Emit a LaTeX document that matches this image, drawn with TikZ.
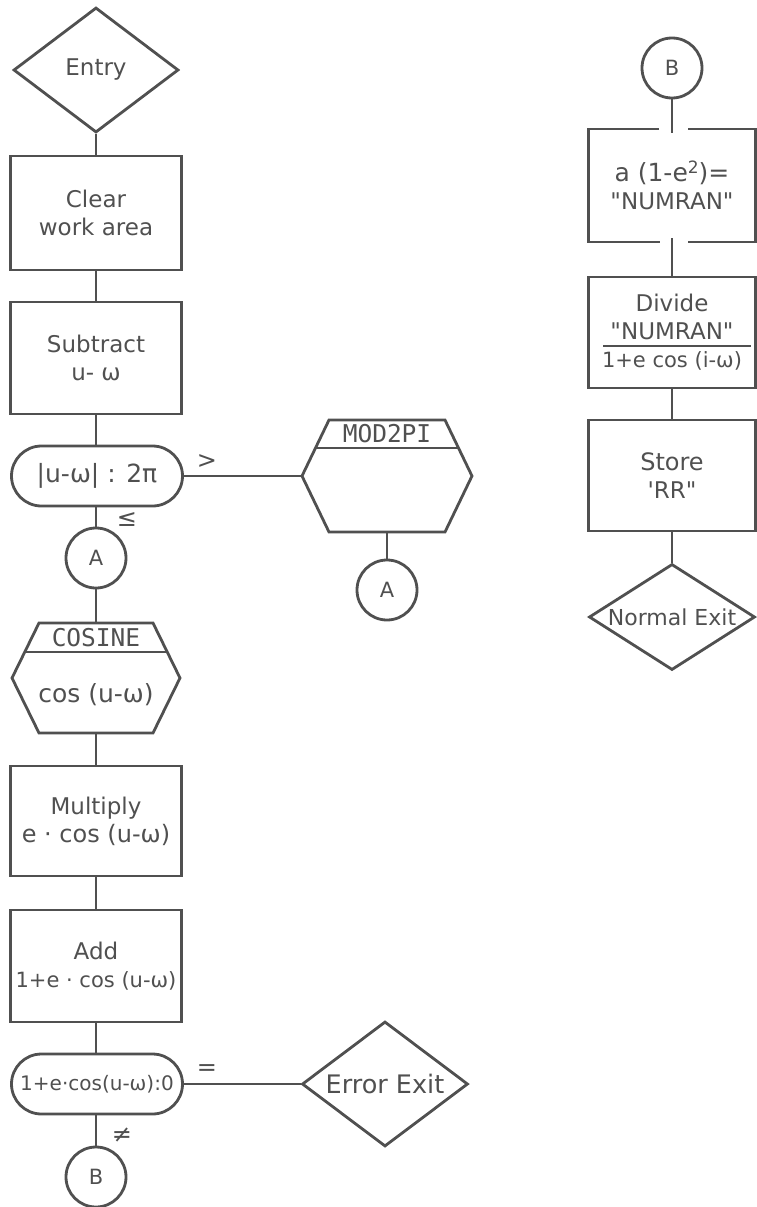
\documentclass[tikz,border=0pt]{standalone}
\usepackage{fontspec}
\setmainfont{DejaVu Sans}[Ligatures=TeXOff]
\newfontfamily\hexfont{DejaVu Sans Mono}
\usetikzlibrary{shapes.geometric,shapes.misc,calc}
\definecolor{ink}{RGB}{80,80,80}
\begin{document}
\begin{tikzpicture}[x=1pt,y=-1pt,
  every node/.style={text=ink,font=\fontsize{23}{28}\selectfont},
  procbox/.style={draw=ink,line width=2.8pt,rectangle,inner sep=0pt,align=center,minimum width=171,minimum height=112},
  dia/.style={draw=ink,line width=2.8pt,diamond,inner sep=0pt},
  conn/.style={draw=ink,line width=2.8pt,circle,minimum size=60,inner sep=0pt,font=\fontsize{21}{22}\selectfont},
  testbox/.style={draw=ink,line width=2.8pt,rounded rectangle,inner sep=0pt,minimum width=171,minimum height=60},
  hexframe/.style={draw=ink,line width=2.8pt,line join=miter},
  hexarea/.style={rectangle,draw=none,inner sep=0pt},
  hextitle/.style={font=\hexfont\fontsize{24.5}{26}\selectfont},
  link/.style={draw=ink,line width=2.6pt},
  cond/.style={font=\fontsize{24}{26}\selectfont}
]
\useasboundingbox (0,0) rectangle (756,1207);

% ---------- left column ----------
\node[dia,minimum width=165,minimum height=125] (entry) at (96,70) {\makebox[0pt]{Entry}};
\node[procbox,minimum height=114] (clear) at (96,213) {Clear\\work area};
\node[procbox] (subtract) at (96,358) {Subtract\\u- ω};
\node[testbox] (dec1) at (97,476) {\makebox[0pt]{\fontsize{25}{26}\selectfont |u-ω| : 2π}};
\node[conn] (a1) at (96,558) {A};

\node[hexarea,minimum width=168,minimum height=110] (cosine) at (96,678) {};
\draw[hexframe] (39,623) -- (153,623) -- (180,678) -- (153,733) -- (39,733) -- (12,678) -- cycle;
\draw[link] (24.8,652) -- (167.2,652);
\node[hextitle] (cosinetitle) at (96,638) {COSINE};
\node[font=\fontsize{25}{28}\selectfont] (cosinetext) at (96,695) {cos (u-ω)};

\node[procbox,minimum height=110] (mult) at (96,821) {Multiply\\{\fontsize{24}{28}\selectfont e · cos (u-ω)}};
\node[procbox] (add) at (96,966) {Add\\{\fontsize{21}{28}\selectfont 1+e · cos (u-ω)}};
\node[testbox] (dec2) at (97,1084) {\makebox[0pt]{\fontsize{20}{22}\selectfont 1+e·cos(u-ω):0}};
\node[conn] (b1) at (96,1177) {B};

% ---------- middle ----------
\node[hexarea,minimum width=170,minimum height=112] (mod) at (387,476) {};
\draw[hexframe] (329,420) -- (445,420) -- (472,476) -- (445,532) -- (329,532) -- (302,476) -- cycle;
\draw[link] (315.5,448) -- (458.5,448);
\node[hextitle] (modtitle) at (387,434) {MOD2PI};
\node[conn] (a2) at (387,590) {A};

\node[dia,minimum width=166,minimum height=125] (errexit) at (385,1084) {\makebox[0pt]{\fontsize{25.5}{26}\selectfont Error Exit}};

% ---------- right column ----------
\node[conn] (b2) at (672,68) {B};
\node[procbox,draw=none,outer sep=0pt,minimum width=167,minimum height=113] (numran) at (672,185.5) {{\fontsize{25}{28}\selectfont a (1-e\raisebox{0.55ex}{\fontsize{17}{17}\selectfont 2})=}\\"NUMRAN"};
\draw[hexframe] ($(numran.north)+(-13,0)$) -- (numran.north west) -- (numran.south west) -- ($(numran.south)+(-12,0)$);
\draw[hexframe] ($(numran.north)+(16,0)$) -- (numran.north east) -- (numran.south east) -- ($(numran.south)+(16,0)$);
\node[procbox,minimum width=167,minimum height=111] (divide) at (672,332.5) {Divide\\"NUMRAN"\\{\fontsize{21}{28}\selectfont 1+e cos (i-ω)}};
\draw[link] (603,346) -- (751,346);
\node[procbox,minimum width=167,minimum height=111] (store) at (672,475.5) {{\fontsize{24}{28}\selectfont Store}\\'RR"};
\node[dia,minimum width=166,minimum height=106] (normal) at (672,617) {\makebox[0pt]{\fontsize{22}{24}\selectfont Normal Exit}};

% ---------- condition labels ----------
\node[cond] (gt) at (207,462) {>};
\node[cond] (le) at (127,520) {≤};
\node[cond] (eq) at (207,1070) {=};
\node[cond] (ne) at (122,1135) {≠};

% ---------- connectors ----------
\draw[link] (entry.south) -- (clear.north);
\draw[link] (clear.south) -- (subtract.north);
\draw[link] (subtract.south) -- (subtract.south |- dec1.north);
\draw[link] (dec1.south -| a1.north) -- (a1.north);
\draw[link] (dec1.east) -- (mod.west);
\draw[link] (mod.south) -- (a2.north);
\draw[link] (a1.south) -- (cosine.north);
\draw[link] (cosine.south) -- (mult.north);
\draw[link] (mult.south) -- (add.north);
\draw[link] (add.south) -- (add.south |- dec2.north);
\draw[link] (dec2.south -| b1.north) -- (b1.north);
\draw[link] (dec2.east) -- (errexit.west);
\draw[link] (b2.south) -- ($(numran.north)+(0,4)$);
\draw[link] ($(numran.south)+(0,-4)$) -- (divide.north);
\draw[link] (divide.south) -- (store.north);
\draw[link] (store.south) -- (normal.north);
\end{tikzpicture}
\end{document}
